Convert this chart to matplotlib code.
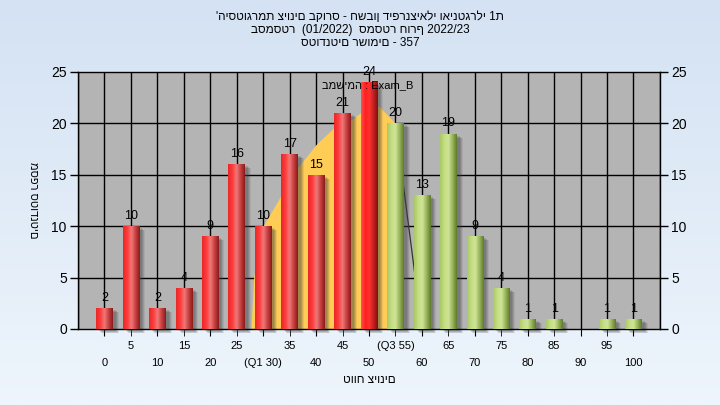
import numpy as np
import matplotlib.pyplot as plt
from matplotlib.colors import LinearSegmentedColormap
from matplotlib import transforms

plt.rcParams['font.family'] = ['Liberation Sans', 'DejaVu Sans']

# histogram data (score bins of 5)
scores = list(range(0, 101, 5))
counts = [2, 10, 2, 4, 9, 16, 10, 17, 15, 21, 24, 20, 13, 19, 9, 4, 1, 1, 0, 1, 1]
pass_from = 55

major_ticks = [0, 10, 20, 30, 40, 50, 60, 70, 80, 90, 100]
major_labels = ['0', '10', '20', '(Q1 30)', '40', '50', '60', '70', '80', '90', '100']
minor_ticks = [5, 15, 25, 35, 45, 55, 65, 75, 85, 95]
minor_labels = ['5', '15', '25', '35', '45', '(Q3 55)', '65', '75', '85', '95']

# yellow distribution area behind the bars
curve_x = [27.8, 28.3, 30.0, 36.4, 40.1, 43.6, 46.8, 48.7, 50.5, 52.0, 55.0, 55.0]
curve_y = [0, 5.0, 9.9, 15.5, 17.9, 19.6, 20.3, 21.1, 21.8, 21.6, 20.0, 0]
drop_x = [55, 60]
drop_y = [20, 0]

title_lines = ["'היסטוגרמת ציונים בקורס - חשבון דיפרנציאלי ואינטגרלי 1ת",
               "בסמסטר  (01/2022)  סמסטר חורף 2022/23",
               "סטודנטים רשומים - 357"]
series_label = 'במשימה : Exam_B'
x_title = 'טווח ציונים'
y_title = 'מספר סטודנטים'

fig = plt.figure(figsize=(7.2, 4.05), dpi=100)

# background gradient
bg = fig.add_axes([0, 0, 1, 1], zorder=-10)
bg_cmap = LinearSegmentedColormap.from_list('bg', ['#d4e2f3', '#eef5fc'])
bg.imshow(np.linspace(0, 1, 256).reshape(-1, 1), cmap=bg_cmap, aspect='auto',
          extent=[0, 1, 0, 1])
bg.axis('off')

ax = fig.add_axes([0.1083, 0.1877, 0.8083, 0.6346])
ax.set_facecolor('#b4b4b4')
ax.set_xlim(-5, 105)
ax.set_ylim(0, 25)

# grid
for x in range(-5, 106, 5):
    ax.axvline(x, color='black', lw=1, zorder=0.5)
for y in [5, 10, 15, 20]:
    ax.axhline(y, color='black', lw=1, zorder=0.5)

ax.fill(curve_x, curve_y, color='#ffcc55', lw=0, zorder=1)
ax.plot(drop_x, drop_y, color='#333333', lw=0.9, zorder=1.2)

width = 3.1
red = LinearSegmentedColormap.from_list('red', ['#e82828', '#ff3a3a', '#f07878', '#c84040', '#8a1a1a'])
red_hi = LinearSegmentedColormap.from_list('redhi', ['#ff5050', '#ff2020', '#ff3030', '#c02020', '#801010'])
green = LinearSegmentedColormap.from_list('green', ['#a8c868', '#c4de80', '#cfe49a', '#98b458', '#5f7a2c'])
grad = np.linspace(0, 1, 64).reshape(1, -1)

# shadows
for dx, dy, a in [(3, -2, 0.18), (4, -3, 0.18), (5, -4, 0.15), (6, -4, 0.1)]:
    tr = transforms.offset_copy(ax.transData, fig=fig, x=dx, y=dy, units='dots')
    ax.bar(scores, counts, width=width, color='#404040', alpha=a, lw=0,
           transform=tr, zorder=2, clip_on=False)

bars = ax.bar(scores, counts, width=width, color='none', lw=0, zorder=3)
imax = int(np.argmax(counts))
for i, (b, s, c) in enumerate(zip(bars, scores, counts)):
    if c == 0:
        continue
    cm = green if s >= pass_from else (red_hi if i == imax else red)
    im = ax.imshow(grad, cmap=cm, aspect='auto', zorder=3,
                   extent=[b.get_x(), b.get_x() + b.get_width(), 0, c])
    im.set_clip_path(b)
    ax.annotate(str(c), (s, c), xytext=(0, 3), textcoords='offset points',
                ha='center', va='bottom', fontsize=9, zorder=5)

ax.set_xlim(-5, 105)
ax.set_ylim(0, 25)

ax.text(0.497, 0.95, series_label, transform=ax.transAxes, ha='center',
        va='center', fontsize=8, zorder=6)

# axes / ticks
ax.set_yticks([0, 5, 10, 15, 20, 25])
ax.tick_params(axis='y', which='both', left=True, right=True, labelleft=True,
               labelright=True, length=6, width=1, labelsize=10, pad=2)
ax.set_xticks(major_ticks)
ax.set_xticklabels(major_labels)
ax.set_xticks(minor_ticks, minor=True)
ax.set_xticklabels(minor_labels, minor=True)
ax.tick_params(axis='x', which='major', length=5, pad=16, labelsize=8)
ax.tick_params(axis='x', which='minor', length=5, pad=4, labelsize=8)
for sp in ax.spines.values():
    sp.set_linewidth(1)

ax.set_xlabel(x_title, fontsize=8.5, va='top')
ax.xaxis.set_label_coords(0.5, -0.175)
fig.text(33 / 720, 0.506, y_title, rotation=270, ha='center', va='center',
         fontsize=8)

for k, line in enumerate(title_lines):
    fig.text(0.5, 1 - (17 + 13 * k) / 405, line, ha='center', va='center',
             fontsize=8.5)

fig.savefig('out.png', dpi=100)
